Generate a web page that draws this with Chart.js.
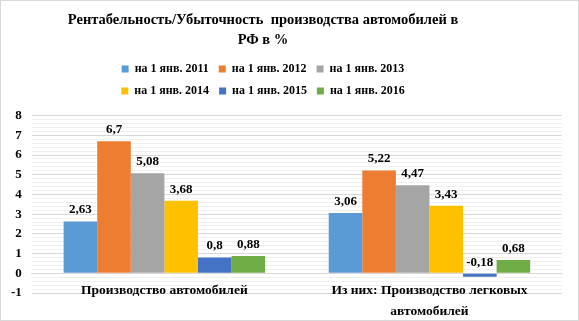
<!DOCTYPE html>
<html>
<head>
<meta charset="utf-8">
<script src="https://cdn.jsdelivr.net/npm/chart.js@4"></script>
<style>
  body { margin: 0; background: #fff; }
  #wrap { width: 579px; height: 321px; box-sizing: border-box; border: 1px solid #d9d9d9; }
</style>
</head>
<body>
<div id="wrap"><canvas id="profitChart" width="577" height="319"></canvas></div>
<script>
var categories = ['Производство автомобилей', ['Из них: Производство легковых', 'автомобилей']];
var seriesNames = ['на 1 янв. 2011', 'на 1 янв. 2012', 'на 1 янв. 2013', 'на 1 янв. 2014', 'на 1 янв. 2015', 'на 1 янв. 2016'];
var jan2011 = [2.63, 3.06];
var jan2012 = [6.7, 5.22];
var jan2013 = [5.08, 4.47];
var jan2014 = [3.68, 3.43];
var jan2015 = [0.8, -0.18];
var jan2016 = [0.88, 0.68];
var colors = ['#5B9BD5', '#ED7D31', '#A5A5A5', '#FFC000', '#4472C4', '#70AD47'];

var serif = "'Liberation Serif', 'Times New Roman', serif";

document.addEventListener("DOMContentLoaded", function() {
  var allValues = [jan2011, jan2012, jan2013, jan2014, jan2015, jan2016];

  // value labels above each bar, comma as decimal mark
  var valueLabels = {
    id: 'valueLabels',
    afterDatasetsDraw: function(chart) {
      var ctx = chart.ctx;
      ctx.save();
      ctx.font = 'bold 13px ' + serif;
      ctx.fillStyle = '#000';
      ctx.textAlign = 'center';
      ctx.textBaseline = 'bottom';
      chart.data.datasets.forEach(function(ds, i) {
        chart.getDatasetMeta(i).data.forEach(function(bar, j) {
          var top = Math.min(bar.y, bar.base);
          ctx.fillText(String(ds.data[j]).replace('.', ','), bar.x, top - 5);
        });
      });
      ctx.restore();
    }
  };

  // Excel puts title + legend a bit left of centre and wraps legend 3 per row
  var headerPlacement = {
    id: 'headerPlacement',
    afterLayout: function(chart) {
      var mid = 262;
      var l = chart.legend;
      l.maxWidth = 320;
      l.fit();
      l.left = mid - 160; l.right = mid + 160;
      l.top = 52; l.bottom = 52 + l.height;
      var t = chart.titleBlock;
      var h = t.bottom - t.top;
      t.left = mid - 280; t.right = mid + 280;
      t.top = 4; t.bottom = 4 + h;
    }
  };

  var ctx = document.getElementById('profitChart').getContext('2d');
  var profitChart = new Chart(ctx, {
    type: 'bar',
    data: {
      labels: categories,
      datasets: allValues.map(function(vals, i) {
        return {
          label: seriesNames[i],
          data: vals,
          backgroundColor: colors[i],
          borderWidth: 0,
          categoryPercentage: 0.76,
          barPercentage: 1
        };
      })
    },
    options: {
      responsive: false,
      animation: false,
      layout: { padding: { left: 0, right: 16, top: 11, bottom: 27 } },
      plugins: {
        title: {
          display: true,
          text: ['Рентабельность/Убыточность  производства автомобилей в', 'РФ в %'],
          color: '#000',
          font: { family: serif, size: 14.5, weight: 'bold', lineHeight: 1.4 },
          padding: { top: 5, bottom: 4 }
        },
        legend: {
          display: true,
          position: 'top',
          labels: {
            boxWidth: 7,
            boxHeight: 7,
            padding: 10,
            color: '#000',
            font: { family: serif, size: 12, weight: 'bold' }
          }
        },
        tooltip: { enabled: false }
      },
      scales: {
        x: {
          position: { y: 0 },
          grid: { display: false },
          border: { display: true, color: '#d9d9d9' },
          ticks: {
            color: '#000',
            maxRotation: 0,
            font: { family: serif, size: 13.5, weight: 'bold', lineHeight: 1.55 },
            padding: -1
          }
        },
        y: {
          min: -1,
          max: 8,
          border: { display: false },
          grid: {
            drawTicks: false,
            color: function(c) {
              var v = c.tick.value;
              return Math.abs(v - Math.round(v)) < 1e-6 ? '#d9d9d9' : '#f0f0f0';
            }
          },
          ticks: {
            stepSize: 0.2,
            maxTicksLimit: 100,
            autoSkip: false,
            padding: 10,
            color: '#000',
            font: { family: serif, size: 13, weight: 'bold' },
            callback: function(v) {
              return Math.abs(v - Math.round(v)) < 1e-6 ? String(Math.round(v)) : '';
            }
          }
        }
      }
    },
    plugins: [valueLabels, headerPlacement]
  });
});
</script>
</body>
</html>
